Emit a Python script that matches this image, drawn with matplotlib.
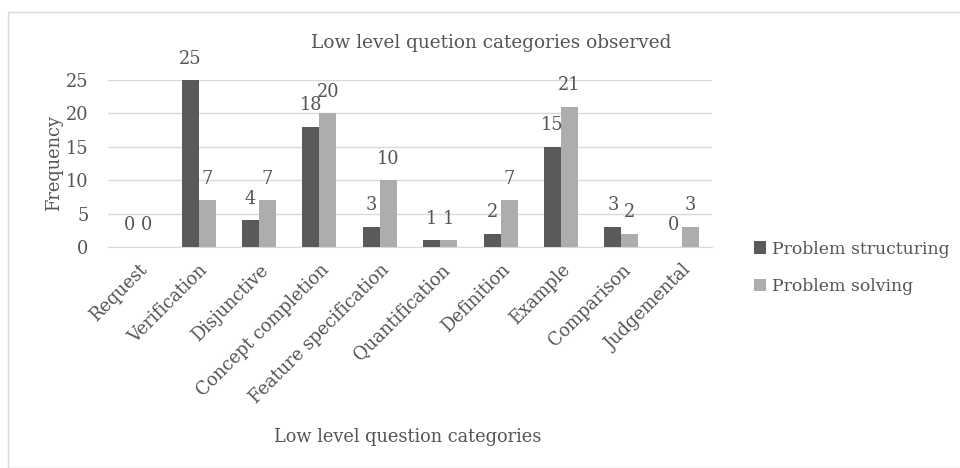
import matplotlib
matplotlib.use('Agg')
import matplotlib.pyplot as plt
import matplotlib.patches as mpatches
import numpy as np

# ── Data ────────────────────────────────────────────────────────────
categories = ["Request", "Verification", "Disjunctive", "Concept completion",
              "Feature specification", "Quantification", "Definition",
              "Example", "Comparison", "Judgemental"]
structuring = [0, 25, 4, 18, 3, 1, 2, 15, 3, 0]
solving = [0, 7, 7, 20, 10, 1, 7, 21, 2, 3]
series_names = ["Problem structuring", "Problem solving"]
y_ticks = [0, 5, 10, 15, 20, 25]

# ── Style ───────────────────────────────────────────────────────────
plt.rcParams['font.family'] = ['DejaVu Serif']
text_color = '#555555'
dark = '#5a5a5a'
light = '#adadad'
fs = 12.8

fig = plt.figure(figsize=(9.6, 4.68), dpi=100)
fig.patch.set_facecolor('white')
# chart-area border
fig.patches.append(mpatches.Rectangle((8 / 960, 0), 1, 1 - 12 / 468,
                                      transform=fig.transFigure, fill=False,
                                      edgecolor='#d9d9d9', linewidth=1))

ax = fig.add_axes([108 / 960, 1 - 247 / 468, (712 - 108) / 960, (247 - 80) / 468])

x = np.arange(len(categories))
w = 0.28
b1 = ax.bar(x - w / 2, structuring, w, color=dark, label=series_names[0], zorder=3)
b2 = ax.bar(x + w / 2, solving, w, color=light, label=series_names[1], zorder=3)

for bars, vals in ((b1, structuring), (b2, solving)):
    for rect, v in zip(bars, vals):
        ax.annotate(str(v), (rect.get_x() + rect.get_width() / 2, v),
                    xytext=(0, 9), textcoords='offset points',
                    ha='center', va='bottom', fontsize=fs, color=text_color,
                    annotation_clip=False)

ax.set_xlim(-0.5, len(categories) - 0.5)
ax.set_ylim(0, 25)
ax.set_yticks(y_ticks)
ax.yaxis.grid(True, color='#d9d9d9', linewidth=1, zorder=0)
ax.set_axisbelow(True)
for s in ['top', 'right', 'left']:
    ax.spines[s].set_visible(False)
ax.spines['bottom'].set_color('#d9d9d9')
ax.tick_params(axis='both', length=0, colors=text_color, labelsize=fs)
ax.tick_params(axis='y', pad=14)
ax.tick_params(axis='x', pad=10)
ax.set_xticks(x)
ax.set_xticklabels(categories, rotation=45, ha='right', rotation_mode='anchor')

ax.set_ylabel('Frequency', fontsize=fs, color=text_color, labelpad=2)
fig.text(408 / 960, 1 - 437 / 468, 'Low level question categories',
         ha='center', va='center', fontsize=fs, color=text_color)
fig.text(491 / 960, 1 - 43 / 468, 'Low level quetion categories observed',
         ha='center', va='center', fontsize=13.3, color=text_color)

ax.legend(loc='upper left', bbox_to_anchor=(738 / 960, 1 - 225 / 468),
          bbox_transform=fig.transFigure, frameon=False, fontsize=12.4,
          labelcolor=text_color, handlelength=0.7, handleheight=0.7,
          handletextpad=0.35, labelspacing=1.2)

fig.savefig('out.png', dpi=100, facecolor='white')
